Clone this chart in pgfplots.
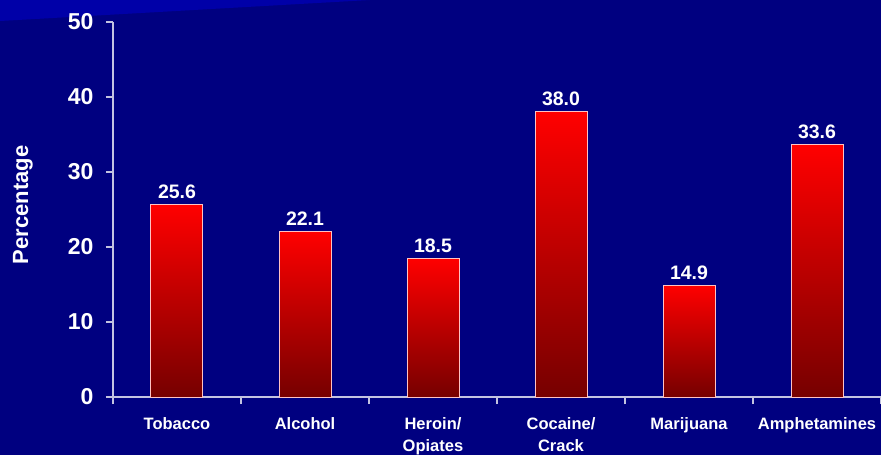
\documentclass[border=0pt]{standalone}
\usepackage{pgfplots}
\pgfplotsset{compat=1.18}
\usepackage{fontspec}
\setmainfont{Liberation Sans}
\definecolor{navy}{RGB}{0,0,128}
\definecolor{band}{RGB}{0,0,168}
\definecolor{axisgray}{RGB}{195,195,225}
\definecolor{barline}{RGB}{255,195,195}
\definecolor{bartop}{RGB}{255,0,0}
\definecolor{barbot}{RGB}{118,0,0}
\pgfplotsset{redbar/.style={draw=barline, line width=1pt, top color=bartop, bottom color=barbot}}
\begin{document}
\begin{tikzpicture}[font=\bfseries]
\fill[navy] (-113pt,-58pt) rectangle (768pt,397pt);
\fill[band] (-113pt,397pt) -- (-113pt,376pt) -- (257pt,397pt) -- cycle;
\begin{axis}[
  scale only axis,
  width=768pt, height=375pt,
  at={(0,0)}, anchor=south west,
  xmin=-0.5, xmax=5.5, ymin=0, ymax=50,
  axis x line=bottom, axis y line=left,
  axis line style={-, draw=axisgray, line width=1.2pt},
  tick style={draw=axisgray, line width=1.2pt},
  tick align=outside,
  major tick length=7pt,
  ytick={0,10,...,50},
  yticklabel style={font=\fontsize{23}{23}\selectfont\bfseries, text=white, xshift=-9pt},
  /pgf/number format/assume math mode=true,
  xtick={-0.5,0.5,...,5.5},
  xticklabels={},
  extra x ticks={0,1,2,3,4,5},
  extra x tick labels={Tobacco,Alcohol,Heroin/\\Opiates,Cocaine/\\Crack,Marijuana,Amphetamines},
  extra x tick style={major tick length=0pt, tick style={draw=none},
    xticklabel style={font=\fontsize{16.5}{22}\selectfont\bfseries, text=white, align=center, anchor=north, yshift=-17pt}},
  ybar, bar width=52pt, bar shift=0pt,
  nodes near coords={\pgfmathprintnumber[fixed,fixed zerofill,precision=1]{\pgfplotspointmeta}},
  every node near coord/.append style={font=\fontsize{19.5}{19.5}\selectfont\bfseries, text=white, anchor=south, yshift=2pt},
  clip=false,
]
\addplot[redbar] coordinates {(0,25.6)};
\addplot[redbar] coordinates {(1,22.1)};
\addplot[redbar] coordinates {(2,18.5)};
\addplot[redbar] coordinates {(3,38.0)};
\addplot[redbar] coordinates {(4,14.9)};
\addplot[redbar] coordinates {(5,33.6)};
\end{axis}
\node[rotate=90, text=white, font=\fontsize{22}{22}\selectfont\bfseries] at (-90pt,192pt) {Percentage};
\pgfresetboundingbox
\useasboundingbox (-113pt,-58pt) rectangle (768pt,397pt);
\end{tikzpicture}
\end{document}
